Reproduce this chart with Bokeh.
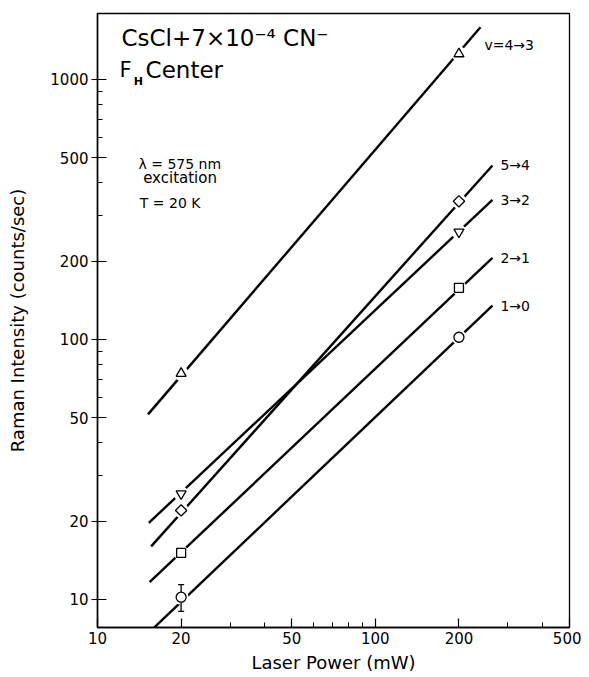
import numpy as np
from bokeh.plotting import figure
from bokeh.models import Range1d, FixedTicker, NumeralTickFormatter, Label, ColumnDataSource
from bokeh.embed import file_html
from bokeh.resources import INLINE
from bokeh.core.properties import value

# ---------------- data ----------------
power_mw = [20, 200]
transitions = ["v=4\u21923", "5\u21924", "3\u21922", "2\u21921", "1\u21920"]
markers = ["triangle", "square", "inverted_triangle", "square", "circle"]
marker_angles = [0, np.pi / 4, 0, 0, 0]
marker_sizes = [10, 8, 10, 9, 10]

intensity_43 = [74, 1255]
intensity_54 = [22, 340]
intensity_32 = [25.5, 259]
intensity_21 = [15.1, 158]
intensity_10 = [10.2, 102]

err_power = [20]
err_lower = [9.0]
err_upper = [11.4]

# fitted power-law lines (end points)
fit_power_43 = [15.2, 239]
fit_int_43 = [51.5, 1589]
fit_power_54 = [15.6, 264]
fit_int_54 = [16.0, 467]
fit_power_32 = [15.3, 264]
fit_int_32 = [19.7, 344]
fit_power_21 = [15.4, 264]
fit_int_21 = [11.65, 206]
fit_power_10 = [15.6, 264]
fit_int_10 = [7.6, 135]

x_major_ticks = [10, 20, 50, 100, 200, 500]
x_minor_ticks = [30, 40, 60, 70, 80, 90, 300, 400]
y_major_ticks = [10, 20, 50, 100, 200, 500, 1000]
y_minor_ticks = [30, 40, 60, 70, 80, 90, 300, 400, 600, 700, 800, 900]

FONT = "DejaVu Sans"

series_int = [intensity_43, intensity_54, intensity_32, intensity_21, intensity_10]
fit_power = [fit_power_43, fit_power_54, fit_power_32, fit_power_21, fit_power_10]
fit_int = [fit_int_43, fit_int_54, fit_int_32, fit_int_21, fit_int_10]

# ---------------- figure ----------------
p = figure(width=581, height=675, x_axis_type="log", y_axis_type="log",
           x_range=Range1d(10, 500), y_range=Range1d(7.8, 1794),
           output_backend="svg", toolbar_location=None,
           min_border_left=97, min_border_right=12, min_border_top=13, min_border_bottom=48)

p.grid.visible = False
p.outline_line_color = "black"
p.outline_line_width = 1.3
p.background_fill_color = "white"
p.border_fill_color = "white"

p.xaxis.ticker = FixedTicker(ticks=x_major_ticks, minor_ticks=x_minor_ticks)
p.yaxis.ticker = FixedTicker(ticks=y_major_ticks, minor_ticks=y_minor_ticks)
p.xaxis.formatter = NumeralTickFormatter(format="0")
p.yaxis.formatter = NumeralTickFormatter(format="0")

for ax in (p.xaxis, p.yaxis):
    ax.axis_line_color = "black"
    ax.axis_line_width = 1.5
    ax.major_tick_line_color = "black"
    ax.minor_tick_line_color = "black"
    ax.major_tick_line_width = 1.2
    ax.minor_tick_line_width = 1.0
    ax.major_label_text_font = FONT
    ax.major_label_text_font_size = "15px"
    ax.major_label_text_color = "black"
    ax.axis_label_text_font = FONT
    ax.axis_label_text_font_style = "normal"
    ax.axis_label_text_color = "black"
    ax.axis_label_text_font_size = "18px"

p.xaxis.axis_label = "Laser Power (mW)"
p.yaxis.axis_label = "Raman Intensity (counts/sec)"

p.xaxis.major_tick_in = 9
p.xaxis.major_tick_out = 0
p.xaxis.minor_tick_in = 5
p.xaxis.minor_tick_out = 0
p.xaxis.major_label_standoff = 4
p.xaxis.axis_label_standoff = 5

p.yaxis.major_tick_in = 9
p.yaxis.major_tick_out = 6
p.yaxis.minor_tick_in = 5
p.yaxis.minor_tick_out = 0
p.yaxis.major_label_standoff = 3
p.yaxis.axis_label_standoff = 19

# fitted lines
for fx, fy in zip(fit_power, fit_int):
    p.line(fx, fy, line_color="black", line_width=2.4)

# white halos that break the lines around the data points
for ys in series_int:
    p.scatter(power_mw, ys, marker="circle", size=15, fill_color="white", line_color=None)

# error bar on the 1->0 point
p.segment(x0=err_power, y0=err_lower, x1=err_power, y1=err_upper, line_color="black", line_width=1.3)
p.scatter(err_power, err_lower, marker="dash", size=6, line_color="black", line_width=1.3)
p.scatter(err_power, err_upper, marker="dash", size=6, line_color="black", line_width=1.3)

# data points (open markers)
for ys, mk, sz, ang in zip(series_int, markers, marker_sizes, marker_angles):
    p.scatter(power_mw, ys, marker=mk, size=sz, angle=ang, fill_color="white",
              line_color="black", line_width=1.3)

# series labels at the right end of each line
lab_src = ColumnDataSource(dict(
    x=[f[1] for f in fit_power],
    y=[f[1] for f in fit_int],
    text=transitions,
    dx=[4, 8, 8, 8, 8],
    dy=[18, 0, 0, 0, 0],
))
p.text(x="x", y="y", text="text", source=lab_src, x_offset="dx", y_offset="dy",
       text_font=value(FONT), text_font_size="14px", text_baseline="middle",
       text_align="left", text_color="black")

# annotations inside the frame
def add_label(x, y, text, size, **kw):
    p.add_layout(Label(x=x, y=y, text=text, text_font=FONT, text_font_size=size,
                       text_color="black", text_baseline=kw.pop("baseline", "middle"),
                       text_align=kw.pop("align", "left"), **kw))

add_label(12.2, 1450, "CsCl+7\u00d710\u207b\u2074 CN\u207b", "23px")
add_label(12.0, 1092, "F", "21px")
add_label(13.5, 985, "H", "11px", text_font_style="bold")
add_label(14.9, 1092, "Center", "23px")
add_label(14.05, 475, "\u03bb = 575 nm", "14px")
add_label(14.6, 418, "excitation", "15px")
add_label(14.2, 336, "T = 20 K", "14px")

open("out.html", "w").write(file_html(p, INLINE))
